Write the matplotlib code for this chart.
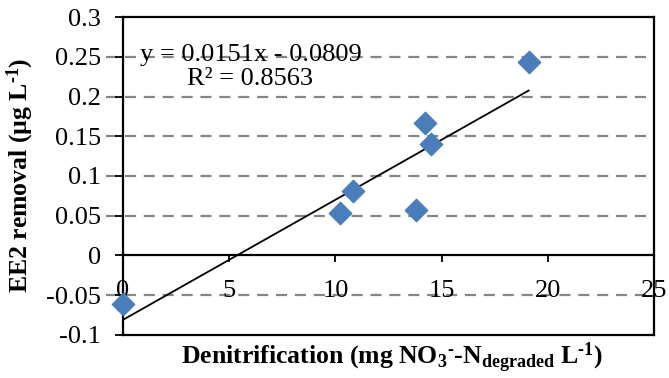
import numpy as np
import matplotlib.pyplot as plt

# values
denitrification = [0.0, 10.2, 10.85, 13.8, 14.2, 14.5, 19.1]
ee2_removal = [-0.061, 0.054, 0.081, 0.057, 0.167, 0.140, 0.244]
slope = 0.0151
intercept = -0.0809
r2 = 0.8563

plt.rcParams['font.family'] = ['Liberation Serif', 'DejaVu Serif']
plt.rcParams['mathtext.default'] = 'regular'

fig = plt.figure(figsize=(6.69, 3.78), dpi=100)
ax = fig.add_axes([0.1839, 0.1138, 0.7937, 0.8412])

ax.set_xlim(0, 25)
ax.set_ylim(-0.1, 0.3)
yt = np.arange(-0.1, 0.301, 0.05)
ax.set_yticks(yt)
ax.set_yticklabels(['-0.1', '-0.05', '0', '0.05', '0.1', '0.15', '0.2', '0.25', '0.3'])
ax.set_xticks([0, 5, 10, 15, 20, 25])
ax.set_xticklabels(['0', '5', '10', '15', '20', '25'])

# dashed grid (not at 0, -0.1, 0.3)
for v in [-0.05, 0.05, 0.1, 0.15, 0.2, 0.25]:
    ax.plot([-0.8, 25], [v, v], color='#868686', lw=1.6, ls=(0, (5, 3.5)),
            clip_on=False, zorder=1)

ax.spines['bottom'].set_position(('data', 0))
for s in ax.spines.values():
    s.set_linewidth(1.6)
    s.set_color('black')
ax.plot([0, 25], [-0.1, -0.1], color='black', lw=1.6, clip_on=False, zorder=3)

ax.tick_params(axis='y', direction='out', length=6, width=1.3, pad=10, labelsize=19)
ax.tick_params(axis='x', direction='out', length=5, width=1.3, pad=13, labelsize=19)

ax.scatter(denitrification, ee2_removal, marker='D', s=130, color='#4A7EBB',
           zorder=4, clip_on=False)
xl = np.array([0, max(denitrification)])
ax.plot(xl, slope * xl + intercept, color='black', lw=1.3, zorder=3)

ax.text(0.8, 0.2525, f'y = {slope}x - {abs(intercept)}', fontsize=19, va='center')
ax.text(3.0, 0.2215, f'R² = {r2}', fontsize=19, va='center')

fig.text(0.585, 0.055, 'Denitrification (mg NO$_3$$^{\u2010}$-N$_{degraded}$ L$^{\u20101}$)',
         fontsize=18.5, fontweight='bold', ha='center', va='center')
fig.text(0.03, 0.535, 'EE2 removal (µg L$^{\u20101}$)', fontsize=18.5, fontweight='bold',
         rotation=90, ha='center', va='center')

fig.savefig('out.png', dpi=100)
